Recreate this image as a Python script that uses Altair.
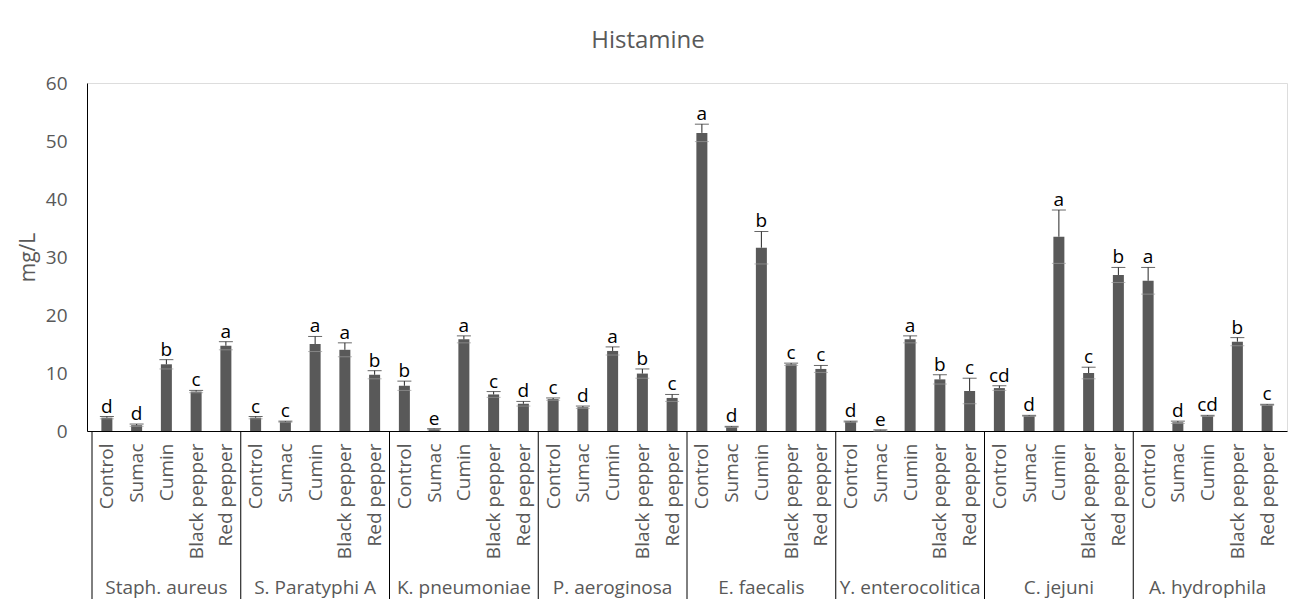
import altair as alt
import pandas as pd

groups = ["Staph. aureus", "S. Paratyphi A", "K. pneumoniae", "P. aeroginosa",
          "E. faecalis", "Y. enterocolitica", "C. jejuni", "A. hydrophila"]
treatments = ["Control", "Sumac", "Cumin", "Black pepper", "Red pepper"]

values = [
    [2.3, 1.0, 11.5, 6.8, 14.7],
    [2.3, 1.6, 15.0, 14.0, 9.7],
    [7.8, 0.3, 15.8, 6.3, 4.7],
    [5.5, 4.1, 13.8, 9.9, 5.7],
    [51.4, 0.7, 31.6, 11.5, 10.7],
    [1.6, 0.1, 15.8, 8.9, 6.9],
    [7.4, 2.6, 33.5, 10.0, 26.9],
    [25.9, 1.5, 2.6, 15.4, 4.5],
]
errors = [
    [0.2, 0.2, 0.8, 0.2, 0.7],
    [0.2, 0.1, 1.3, 1.2, 0.7],
    [0.8, 0.1, 0.6, 0.5, 0.4],
    [0.2, 0.2, 0.7, 0.8, 0.6],
    [1.5, 0.1, 2.8, 0.2, 0.6],
    [0.1, 0.1, 0.6, 0.8, 2.2],
    [0.4, 0.1, 4.6, 1.0, 1.3],
    [2.3, 0.2, 0.1, 0.7, 0.1],
]
letters = [
    ["d", "d", "b", "c", "a"],
    ["c", "c", "a", "a", "b"],
    ["b", "e", "a", "c", "d"],
    ["c", "d", "a", "b", "c"],
    ["a", "d", "b", "c", "c"],
    ["d", "e", "a", "b", "c"],
    ["cd", "d", "a", "c", "b"],
    ["a", "d", "cd", "b", "c"],
]

n_t = len(treatments)
rows = []
for gi, g in enumerate(groups):
    for ti, t in enumerate(treatments):
        v = values[gi][ti]
        e = errors[gi][ti]
        rows.append({
            "group": g, "treatment": t, "pos": gi * n_t + ti + 0.5,
            "value": v, "hi": v + e, "lo": max(v - e, 0), "letter": letters[gi][ti],
        })
df = pd.DataFrame(rows)

gdf = pd.DataFrame({"group": groups,
                    "pos": [gi * n_t + n_t / 2 for gi in range(len(groups))]})
ddf = pd.DataFrame({"pos": [gi * n_t for gi in range(len(groups))]})

FONT = "Open Sans"
GRAY = "#595959"
W, H = 1200, 348
xmax = len(groups) * n_t

label_expr = "[" + ",".join("'" + t + "'" for t in treatments) + "][floor(datum.value) % " + str(n_t) + "]"

xscale = alt.Scale(domain=[0, xmax], nice=False, zero=False)
yscale = alt.Scale(domain=[0, 60], nice=False)

xaxis = alt.Axis(
    values=list(df["pos"]), labelExpr=label_expr, labelAngle=270,
    ticks=False, grid=False, title=None, labelFont=FONT, labelFontSize=19,
    labelColor=GRAY, labelPadding=12, labelOverlap=False, labelFlush=False,
    domainColor="#000000", labelBound=False)
yaxis = alt.Axis(
    values=[0, 10, 20, 30, 40, 50, 60], ticks=False, grid=False, title="mg/L",
    labelFont=FONT, labelFontSize=19, labelColor=GRAY, labelPadding=20,
    domainColor="#000000", titleFont=FONT, titleFontSize=21, titleColor=GRAY,
    titleFontWeight="normal", titleX=-59, titleY=H / 2, titleAngle=270,
    titleBaseline="middle", titleAlign="center")


def X():
    return alt.X("pos:Q", scale=xscale, axis=xaxis)


def Y(field):
    return alt.Y(field + ":Q", scale=yscale, axis=yaxis)


bars = alt.Chart(df).mark_bar(size=11, color=GRAY, orient="vertical").encode(
    x=X(), y=Y("value"))

err = alt.Chart(df).mark_rule(color="#262626", strokeWidth=1).encode(
    x=X(), y=Y("value"), y2="hi:Q")

cap_top = alt.Chart(df).mark_tick(orient="horizontal", size=14, thickness=1,
                                  color="#262626").encode(x=X(), y=Y("hi"))

cap_low = alt.Chart(df).mark_tick(orient="horizontal", size=14, thickness=1,
                                  color="#9a9a9a").encode(x=X(), y=Y("lo"))

text = alt.Chart(df).mark_text(baseline="alphabetic", dy=-4, fontSize=19,
                               font=FONT, color="#000000").encode(
    x=X(), y=Y("hi"), text="letter:N")

dividers = alt.Chart(ddf).mark_rule(color="#000000", strokeWidth=1).encode(
    x=X(), y=alt.value(H), y2=alt.value(H + 168))

glabels = alt.Chart(gdf).mark_text(fontSize=19, font=FONT, color=GRAY,
                                   baseline="middle").encode(
    x=X(), y=alt.value(H + 157), text="group:N")

chart = alt.layer(bars, err, cap_low, cap_top, text, dividers, glabels).properties(
    width=W, height=H,
    autosize=alt.AutoSizeParams(type="none"),
    padding={"left": 79, "top": 75, "right": 3, "bottom": 168},
    title=alt.TitleParams("Histamine", fontSize=24, font=FONT, color=GRAY,
                          fontWeight="normal", offset=21, dx=-39, anchor="middle"),
).configure_view(strokeWidth=0).configure(background="white")

chart.save("out.html", embed_options={"renderer": "svg", "actions": False})
